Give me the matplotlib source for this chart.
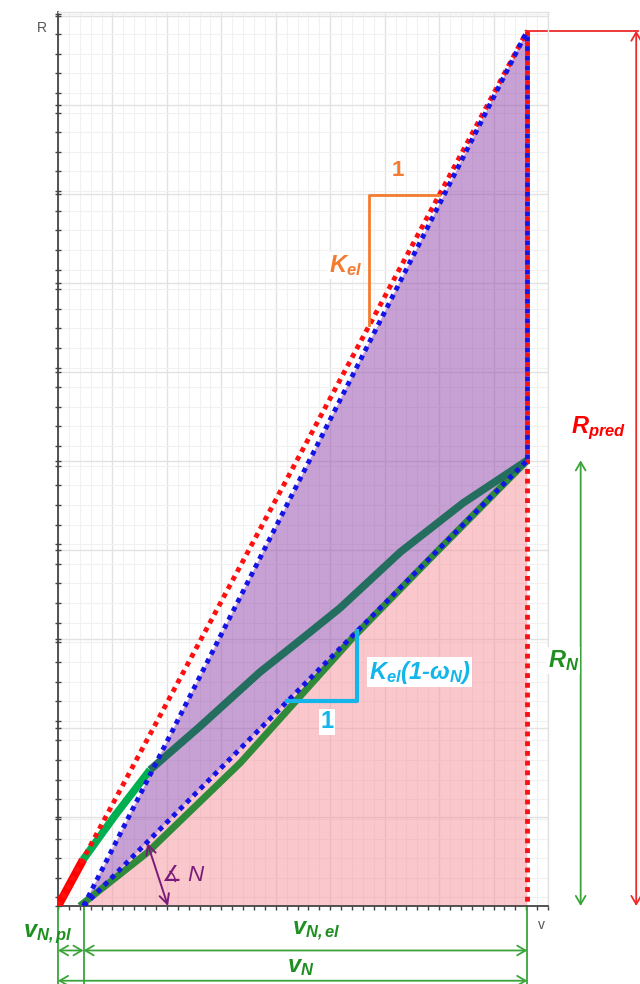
import numpy as np
import matplotlib
matplotlib.use("Agg")
import matplotlib.pyplot as plt
from matplotlib.ticker import MultipleLocator, FixedLocator

plt.rcParams['font.family'] = ['Liberation Sans', 'DejaVu Sans']
plt.rcParams['mathtext.fontset'] = 'custom'
plt.rcParams['mathtext.it'] = 'Liberation Sans:italic:bold'
plt.rcParams['mathtext.rm'] = 'Liberation Sans:italic:bold'
plt.rcParams['mathtext.bf'] = 'Liberation Sans:bold'

# key points of the diagram (v, R)
v_pl = 0.47          # plastic part of the displacement
v_N = 8.62           # total displacement
R_pred = 9.84        # force at the end of preloading
R_N = 5.01           # residual force

# loading branch: plastic start, elastic part, degraded part
load_red_v = [0.0, 0.46]
load_red_R = [0.0, 0.52]
load_green_v = [0.46, 1.05, 1.69]
load_green_R = [0.52, 1.02, 1.53]
load_teal_v = [1.69, 2.61, 3.71, 4.45, 5.18, 6.29, 7.44, 8.62]
load_teal_R = [1.53, 2.02, 2.63, 2.99, 3.35, 3.98, 4.53, 5.01]

# unloading branch
unload_v = [0.40, 1.64, 3.35, 5.42, 6.89, 8.62]
unload_R = [0.0, 0.60, 1.61, 3.02, 3.94, 5.01]

fig = plt.figure(figsize=(6.4, 9.84), dpi=100)
ax = fig.add_axes([58 / 640, 78 / 984, 490 / 640, 894 / 984])
ax.set_xlim(0, 9)
ax.set_ylim(0, 10.05)

# grid
ax.xaxis.set_major_locator(MultipleLocator(1))
ax.xaxis.set_minor_locator(MultipleLocator(0.2))
ax.yaxis.set_major_locator(MultipleLocator(1))
ax.yaxis.set_minor_locator(FixedLocator(np.arange(0.096, 10.05, 0.2206)))
ax.grid(which='major', color='#e2e2e2', lw=1.0, zorder=0)
ax.grid(which='minor', color='#f1f1f1', lw=0.8, zorder=0)
ax.set_axisbelow(True)
ax.tick_params(which='both', labelbottom=False, labelleft=False, color='#444444')
ax.tick_params(axis='y', which='both', direction='inout', length=5, width=1)
ax.tick_params(axis='x', which='both', direction='out', length=3, width=1)
for side in ('left', 'bottom'):
    ax.spines[side].set_color('#444444')
    ax.spines[side].set_linewidth(1.3)
for side in ('top', 'right'):
    ax.spines[side].set_color('#e2e2e2')
    ax.spines[side].set_linewidth(1.0)

ax.text(-0.29, 9.87, 'R', color='#555555', fontsize=10, ha='center', va='center', clip_on=False)
ax.text(8.88, -0.21, 'v', color='#555555', fontsize=10, ha='center', va='center', clip_on=False)

# energy areas
ax.fill([v_pl, v_N, v_N], [0, R_pred, R_N], color='#9145a9', alpha=0.5, lw=0, zorder=1)
ax.fill([v_pl, v_N, v_N], [0, R_N, 0], color='#f7919a', alpha=0.5, lw=0, zorder=1)

# curves
ax.plot(unload_v, unload_R, color='#2f8a3a', lw=5, solid_capstyle='butt', zorder=3)
ax.plot(load_teal_v, load_teal_R, color='#236e5e', lw=5.5, solid_capstyle='butt', zorder=3)
ax.plot(load_green_v, load_green_R, color='#00b050', lw=5.5, solid_capstyle='butt', zorder=3)
ax.plot(load_red_v, load_red_R, color='#ff0000', lw=6, solid_capstyle='butt', zorder=3)

dot = (0, (1, 1))
ax.plot([0, v_N], [0, R_pred], color='#ff1010', lw=3.5, ls=dot, zorder=4)
ax.plot([v_N, v_N], [R_pred, 0], color='#ff1010', lw=3.5, ls=dot, zorder=4)
ax.plot([v_pl, v_N], [0, R_pred], color='#1414e6', lw=3.5, ls=dot, zorder=5)
ax.plot([v_pl, v_N], [0, R_N], color='#1414e6', lw=3.5, ls=dot, zorder=5)
ax.plot([v_N, v_N], [R_pred, R_N], color='#1414e6', lw=3.5, ls=(1, (1, 1)), zorder=5)

# slope triangles
k_el = R_pred / v_N
x0, x1 = 5.72, 7.0
ax.plot([x0, x0, x1], [k_el * x0, k_el * x1, k_el * x1], color='#f47b30', lw=2, zorder=6)
ax.text(6.25, 8.27, '1', color='#f47b30', fontsize=16, fontweight='bold', ha='center', va='center', zorder=7)
ax.text(5.28, 7.2, r'$K_{el}$', color='#f47b30', fontsize=17, ha='center', va='center', zorder=7,
        bbox=dict(facecolor='white', edgecolor='none', pad=1))

k_n = R_N / (v_N - v_pl)
x0, x1 = 4.21, 5.50
ax.plot([x0, x1, x1], [k_n * (x0 - v_pl), k_n * (x0 - v_pl), k_n * (x1 - v_pl)],
        color='#13b5ea', lw=3, zorder=6)
ax.text(4.94, 2.07, '1', color='#13b5ea', fontsize=17, fontweight='bold', ha='center', va='center', zorder=7,
        bbox=dict(facecolor='white', edgecolor='none', pad=1))
ax.text(6.64, 2.63, r'$K_{el}(1$-$\omega_N)$', color='#13b5ea', fontsize=17, fontweight='bold',
        fontstyle='italic', ha='center', va='center', zorder=7,
        bbox=dict(facecolor='white', edgecolor='none', pad=1))

# angle of the unloading line
ax.annotate('', xy=(1.64, 0.71), xytext=(2.02, 0.0),
            arrowprops=dict(arrowstyle='<->,head_length=0.7,head_width=0.35', color='#7a1a7a', lw=1.4,
                            shrinkA=0, shrinkB=0), zorder=7, annotation_clip=False)
ax.text(2.30, 0.34, '∡ N', color='#7a1a7a', fontsize=16, fontstyle='italic', ha='center', va='center', zorder=7)

# force dimensions on the right
red = '#ee2a2a'
green = '#3aa43a'
x_rp, x_rn = 10.62, 9.60
ax.plot([v_N, x_rp + 0.03], [R_pred, R_pred], color=red, lw=1.3, clip_on=False)
ax.annotate('', xy=(x_rp, R_pred), xytext=(x_rp, 0),
            arrowprops=dict(arrowstyle='<->,head_length=0.6,head_width=0.35', color=red, lw=1.3,
                            shrinkA=0, shrinkB=0), annotation_clip=False)
ax.text(9.93, 5.37, r'$R_{pred}$', color='#ff0000', fontsize=17, ha='center', va='center', clip_on=False)
ax.annotate('', xy=(x_rn, R_N), xytext=(x_rn, 0),
            arrowprops=dict(arrowstyle='<->,head_length=0.6,head_width=0.35', color=green, lw=1.3,
                            shrinkA=0, shrinkB=0), annotation_clip=False)
ax.text(9.28, 2.76, r'$R_N$', color='#1f8f22', fontsize=17, ha='center', va='center', clip_on=False,
        bbox=dict(facecolor='white', edgecolor='none', pad=1))

# displacement dimensions below
y_low = -0.88
for xv in (0, v_pl, v_N):
    ax.plot([xv, xv], [0, y_low], color=green, lw=1.3, clip_on=False)
arrow = dict(arrowstyle='<->,head_length=0.6,head_width=0.35', color=green, lw=1.3, shrinkA=0, shrinkB=0)
ax.annotate('', xy=(0, -0.5), xytext=(v_pl, -0.5), arrowprops=arrow, annotation_clip=False)
ax.annotate('', xy=(v_pl, -0.5), xytext=(v_N, -0.5), arrowprops=arrow, annotation_clip=False)
ax.annotate('', xy=(0, -0.84), xytext=(v_N, -0.84), arrowprops=arrow, annotation_clip=False)
ax.text(-0.18, -0.32, r'$v_{N,pl}$', color='#1f8f22', fontsize=17, ha='center', va='center', clip_on=False)
ax.text(4.74, -0.29, r'$v_{N,el}$', color='#1f8f22', fontsize=17, ha='center', va='center', clip_on=False)
ax.text(4.45, -0.69, r'$v_N$', color='#1f8f22', fontsize=17, ha='center', va='center', clip_on=False)

fig.savefig('out.png', dpi=100)
